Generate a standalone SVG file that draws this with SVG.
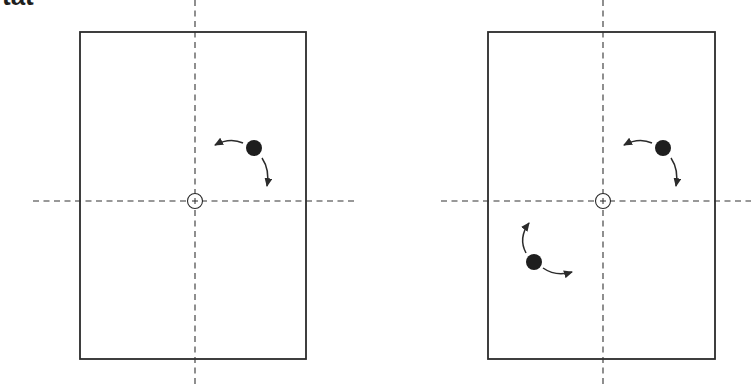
<svg xmlns="http://www.w3.org/2000/svg" width="751" height="387" viewBox="0 0 751 387">
<style>
.frame{fill:none;stroke:#2b2b2b;stroke-width:1.8}
.axis{fill:none;stroke:#333;stroke-width:1.1;stroke-dasharray:6 4.5}
.ctr{fill:#fff;stroke:#2b2b2b;stroke-width:1.1}
.plus{stroke:#2b2b2b;stroke-width:1}
.dot{fill:#1e1e1e}
.arr{fill:none;stroke:#2b2b2b;stroke-width:1.5;marker-end:url(#ah)}
.title{font-family:"Liberation Sans",Arial,sans-serif;font-weight:bold;font-size:26px;fill:#1e1e1e}
</style>
<defs>
<marker id="ah" markerUnits="userSpaceOnUse" markerWidth="9" markerHeight="8" refX="8" refY="4" orient="auto">
<path d="M0,0 L9,4 L0,8 z" fill="#2b2b2b"/>
</marker>
</defs>
<rect width="751" height="387" fill="#fff"/>
<text class="title" x="2" y="5">tat</text>
<g id="panel-left">
<rect class="frame" x="80" y="32" width="226" height="327"/>
</g>
<g id="panel-right">
<rect class="frame" x="488" y="32" width="227" height="327"/>
</g>
<g id="axes">
<line class="axis" x1="195" y1="0" x2="195" y2="387"/>
<line class="axis" x1="33" y1="201" x2="356" y2="201"/>
<line class="axis" x1="603" y1="0" x2="603" y2="387"/>
<line class="axis" x1="441" y1="201" x2="751" y2="201"/>
</g>
<g id="center-left">
<circle class="ctr" cx="195" cy="201" r="7.5"/>
<line class="plus" x1="192" y1="201" x2="198" y2="201"/>
<line class="plus" x1="195" y1="198" x2="195" y2="204"/>
</g>
<g id="center-right">
<circle class="ctr" cx="603" cy="201" r="7.5"/>
<line class="plus" x1="600" y1="201" x2="606" y2="201"/>
<line class="plus" x1="603" y1="198" x2="603" y2="204"/>
</g>
<g id="mass-left">
<circle class="dot" cx="254" cy="148" r="8"/>
</g>
<g id="mass-right-top">
<circle class="dot" cx="663" cy="148" r="8"/>
</g>
<g id="mass-right-bottom">
<circle class="dot" cx="534" cy="262" r="8"/>
</g>
<g id="connectors">
<path class="arr" d="M243,143 Q230,137 215,145"/>
<path class="arr" d="M262,158 Q270,170 267,186"/>
<path class="arr" d="M652,143 Q639,137 624,145"/>
<path class="arr" d="M671,158 Q679,170 676,186"/>
<path class="arr" d="M526,253 Q518,238 529,223"/>
<path class="arr" d="M543,268 Q556,277 572,272"/>
</g>
</svg>
